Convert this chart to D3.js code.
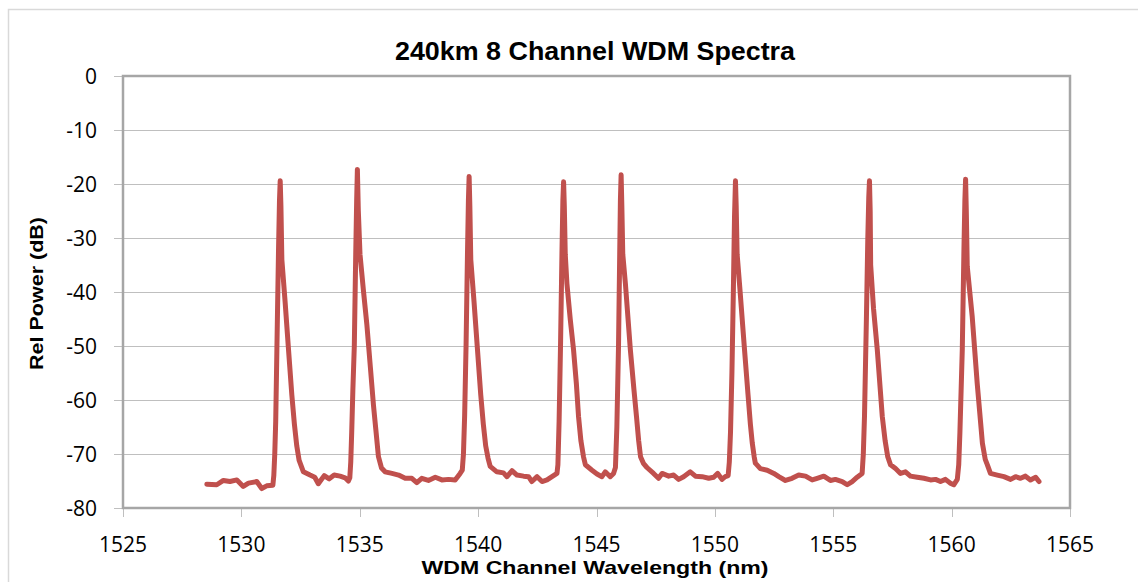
<!DOCTYPE html>
<html>
<head>
<meta charset="utf-8">
<title>240km 8 Channel WDM Spectra</title>
<script src="https://cdn.jsdelivr.net/npm/d3@7/dist/d3.min.js"></script>
<style>
  html, body { margin: 0; padding: 0; background: #ffffff; }
  svg { display: block; }
</style>
</head>
<body>
<svg id="chart" width="1138" height="582"></svg>
<script>
// Measured optical spectrum after 240 km: wavelength (nm) and relative power (dB)
const wavelengthNm = [
  1528.54, 1528.96, 1529.24, 1529.52, 1529.81, 1530.08, 1530.30, 1530.65, 1530.86, 1531.07, 1531.33,
  1531.37, 1531.41, 1531.45, 1531.50, 1531.57, 1531.61, 1531.64, 1531.67, 1531.71, 1531.85, 1531.99, 1532.13, 1532.24, 1532.34, 1532.44, 1532.62,
  1532.90, 1533.10, 1533.25, 1533.50, 1533.71, 1533.92, 1534.17, 1534.38, 1534.52,
  1534.58, 1534.62, 1534.66, 1534.71, 1534.77, 1534.83, 1534.87, 1534.90, 1534.94, 1535.01, 1535.15, 1535.30, 1535.45, 1535.58, 1535.68, 1535.79, 1535.92,
  1536.07, 1536.36, 1536.64, 1536.92, 1537.20, 1537.41, 1537.62, 1537.90, 1538.19, 1538.47, 1538.75, 1539.03, 1539.24,
  1539.33, 1539.38, 1539.43, 1539.49, 1539.55, 1539.59, 1539.62, 1539.65, 1539.69, 1539.83, 1539.97, 1540.11, 1540.22, 1540.32, 1540.42,
  1540.51, 1540.79, 1541.07, 1541.22, 1541.43, 1541.64, 1541.92, 1542.13, 1542.27, 1542.49, 1542.70, 1542.91, 1543.12, 1543.33,
  1543.37, 1543.42, 1543.48, 1543.54, 1543.58, 1543.61, 1543.64, 1543.68, 1543.75, 1543.89, 1544.03, 1544.15, 1544.24, 1544.34, 1544.45, 1544.53,
  1544.81, 1545.02, 1545.23, 1545.37, 1545.58, 1545.72,
  1545.80, 1545.86, 1545.93, 1545.98, 1546.01, 1546.04, 1546.07, 1546.11, 1546.22, 1546.43, 1546.58, 1546.69, 1546.78, 1546.86, 1546.99, 1547.13,
  1547.41, 1547.62, 1547.77, 1548.05, 1548.26, 1548.47, 1548.68, 1548.96, 1549.18, 1549.46, 1549.74, 1549.95, 1550.12, 1550.30, 1550.44,
  1550.56, 1550.61, 1550.66, 1550.72, 1550.78, 1550.83, 1550.87, 1550.90, 1550.94, 1551.05, 1551.24, 1551.40, 1551.50, 1551.58, 1551.66,
  1551.71, 1551.92, 1552.21, 1552.49, 1552.70, 1552.98, 1553.26, 1553.54, 1553.83, 1554.11, 1554.32, 1554.60, 1554.88, 1555.09, 1555.38, 1555.59, 1555.80, 1556.01, 1556.22,
  1556.27, 1556.32, 1556.40, 1556.46, 1556.50, 1556.53, 1556.56, 1556.58, 1556.70, 1556.86, 1557.07, 1557.19, 1557.30, 1557.42,
  1557.63, 1557.84, 1558.05, 1558.26, 1558.55, 1558.83, 1559.11, 1559.32, 1559.53, 1559.74, 1559.95, 1560.09, 1560.24,
  1560.30, 1560.35, 1560.45, 1560.52, 1560.56, 1560.59, 1560.62, 1560.66, 1560.87, 1561.08, 1561.30, 1561.42, 1561.51,
  1561.64, 1561.93, 1562.21, 1562.49, 1562.70, 1562.91, 1563.12, 1563.33, 1563.55, 1563.69
];
const relPowerDb = [
  -75.6, -75.7, -74.9, -75.1, -74.8, -76.0, -75.4, -75.1, -76.4, -75.9, -75.8,
  -74.0, -70.0, -64.0, -50.7, -32.0, -23.0, -19.4, -24.0, -34.0, -42.0, -50.6, -59.0, -64.5, -68.5, -71.2, -73.3,
  -73.9, -74.3, -75.5, -74.0, -74.6, -73.9, -74.1, -74.4, -75.0,
  -74.4, -71.5, -66.0, -58.0, -50.0, -33.0, -23.0, -17.3, -25.0, -33.0, -39.5, -46.0, -54.0, -61.0, -65.5, -70.5, -72.6,
  -73.3, -73.6, -73.9, -74.5, -74.5, -75.3, -74.5, -74.9, -74.3, -74.8, -74.7, -74.8, -73.6,
  -73.0, -70.0, -63.0, -50.0, -33.0, -23.0, -18.6, -24.0, -34.0, -42.0, -50.5, -59.0, -64.5, -68.5, -70.8,
  -72.3, -73.3, -73.5, -74.2, -73.1, -73.9, -74.1, -74.2, -75.1, -74.2, -75.1, -74.8, -74.2, -73.6,
  -72.0, -64.0, -50.0, -33.0, -23.0, -19.6, -24.0, -33.0, -38.4, -45.0, -50.7, -57.0, -63.0, -67.5, -70.5, -72.0,
  -73.0, -73.7, -74.2, -73.3, -74.2, -73.6,
  -72.5, -65.0, -50.0, -33.0, -23.0, -18.3, -24.0, -33.0, -38.4, -50.7, -58.0, -63.1, -67.5, -70.5, -71.8, -72.5,
  -73.6, -74.5, -73.6, -74.1, -73.9, -74.7, -74.2, -73.3, -74.1, -74.2, -74.5, -74.3, -73.6, -74.7, -74.2,
  -74.0, -71.5, -66.0, -55.0, -40.0, -26.0, -19.4, -24.0, -33.0, -39.0, -50.0, -59.0, -64.5, -68.0, -70.5,
  -71.7, -72.7, -73.0, -73.6, -74.2, -74.9, -74.5, -73.9, -74.1, -74.8, -74.5, -74.1, -74.9, -74.7, -75.1, -75.7, -75.1, -74.3, -73.6,
  -70.0, -63.0, -45.0, -30.0, -22.5, -19.4, -25.0, -35.0, -43.0, -50.7, -63.0, -67.5, -70.5, -72.0,
  -72.7, -73.6, -73.3, -74.1, -74.3, -74.5, -74.8, -74.7, -75.1, -74.7, -75.4, -75.7, -74.7,
  -72.0, -66.0, -50.7, -32.2, -23.0, -19.1, -25.0, -35.3, -44.6, -56.9, -68.0, -71.0, -72.0,
  -73.6, -73.9, -74.2, -74.7, -74.2, -74.5, -74.1, -74.8, -74.3, -75.1
];

const xTicks = [1525, 1530, 1535, 1540, 1545, 1550, 1555, 1560, 1565];
const yTicks = [0, -10, -20, -30, -40, -50, -60, -70, -80];

const titleText = "240km 8 Channel WDM Spectra";
const xTitleText = "WDM Channel Wavelength (nm)";
const yTitleText = "Rel Power (dB)";

const W = 1138, H = 582;
const plot = { left: 123, right: 1070, top: 76, bottom: 508 };

const svg = d3.select("#chart");

// chart area frame
svg.append("rect")
  .attr("x", 8.5).attr("y", 9.5)
  .attr("width", W + 20).attr("height", H + 20)
  .attr("fill", "#ffffff")
  .attr("stroke", "#d9d9d9")
  .attr("stroke-width", 1.5);

const x = d3.scaleLinear().domain([1525, 1565]).range([plot.left, plot.right]);
const y = d3.scaleLinear().domain([-80, 0]).range([plot.bottom, plot.top]);

// horizontal gridlines with their tick stubs
svg.append("g")
  .attr("transform", `translate(${plot.right},0)`)
  .call(d3.axisLeft(y).tickValues(yTicks.filter(v => v > -80 && v < 0))
        .tickSize(plot.right - plot.left + 9).tickFormat(""))
  .call(g => g.select(".domain").remove())
  .call(g => g.selectAll("line").attr("stroke", "#bfbfbf").attr("stroke-width", 1)
        .attr("shape-rendering", "crispEdges"));

// y tick stubs at the extremes
svg.append("g")
  .attr("transform", `translate(${plot.left},0)`)
  .call(d3.axisLeft(y).tickValues([0, -80]).tickSize(9).tickFormat(""))
  .call(g => g.select(".domain").remove())
  .call(g => g.selectAll("line").attr("stroke", "#bfbfbf").attr("shape-rendering", "crispEdges"));

// x tick stubs
svg.append("g")
  .attr("transform", `translate(0,${plot.bottom})`)
  .call(d3.axisBottom(x).tickValues(xTicks).tickSize(9).tickFormat(""))
  .call(g => g.select(".domain").remove())
  .call(g => g.selectAll("line").attr("stroke", "#bfbfbf").attr("shape-rendering", "crispEdges"));

// plot area border
svg.append("rect")
  .attr("x", plot.left).attr("y", plot.top)
  .attr("width", plot.right - plot.left).attr("height", plot.bottom - plot.top)
  .attr("fill", "none")
  .attr("stroke", "#a6a6a6")
  .attr("stroke-width", 2.5);

// y tick labels
svg.append("g").selectAll("text")
  .data(yTicks).join("text")
  .attr("x", 97)
  .attr("y", d => y(d))
  .attr("dy", "0.36em")
  .attr("text-anchor", "end")
  .attr("font-family", "'Open Sans', sans-serif")
  .attr("font-size", 21)
  .attr("fill", "#000")
  .text(d => d);

// x tick labels
svg.append("g").selectAll("text")
  .data(xTicks).join("text")
  .attr("x", d => x(d))
  .attr("y", 552)
  .attr("text-anchor", "middle")
  .attr("font-family", "'Open Sans', sans-serif")
  .attr("font-size", 21)
  .attr("fill", "#000")
  .text(d => d);

// spectrum trace
const points = wavelengthNm.map((w, i) => [w, relPowerDb[i]]);
svg.append("path")
  .datum(points)
  .attr("fill", "none")
  .attr("stroke", "#c0504d")
  .attr("stroke-width", 5)
  .attr("stroke-linejoin", "round")
  .attr("stroke-linecap", "round")
  .attr("d", d3.line().x(d => x(d[0])).y(d => y(d[1])));

// titles
svg.append("text")
  .attr("x", 595).attr("y", 60)
  .attr("text-anchor", "middle")
  .attr("font-family", "'Liberation Sans', Arial, sans-serif")
  .attr("font-weight", "bold")
  .attr("font-size", 26)
  .attr("textLength", 400)
  .attr("lengthAdjust", "spacingAndGlyphs")
  .text(titleText);

svg.append("text")
  .attr("x", 595).attr("y", 574)
  .attr("text-anchor", "middle")
  .attr("font-family", "'Liberation Sans', Arial, sans-serif")
  .attr("font-weight", "bold")
  .attr("font-size", 19)
  .attr("textLength", 347)
  .attr("lengthAdjust", "spacingAndGlyphs")
  .text(xTitleText);

svg.append("text")
  .attr("transform", `translate(43,${(217 + 370) / 2}) rotate(-90)`)
  .attr("text-anchor", "middle")
  .attr("font-family", "'Liberation Sans', Arial, sans-serif")
  .attr("font-weight", "bold")
  .attr("font-size", 19)
  .attr("textLength", 153)
  .attr("lengthAdjust", "spacingAndGlyphs")
  .text(yTitleText);
</script>
</body>
</html>
